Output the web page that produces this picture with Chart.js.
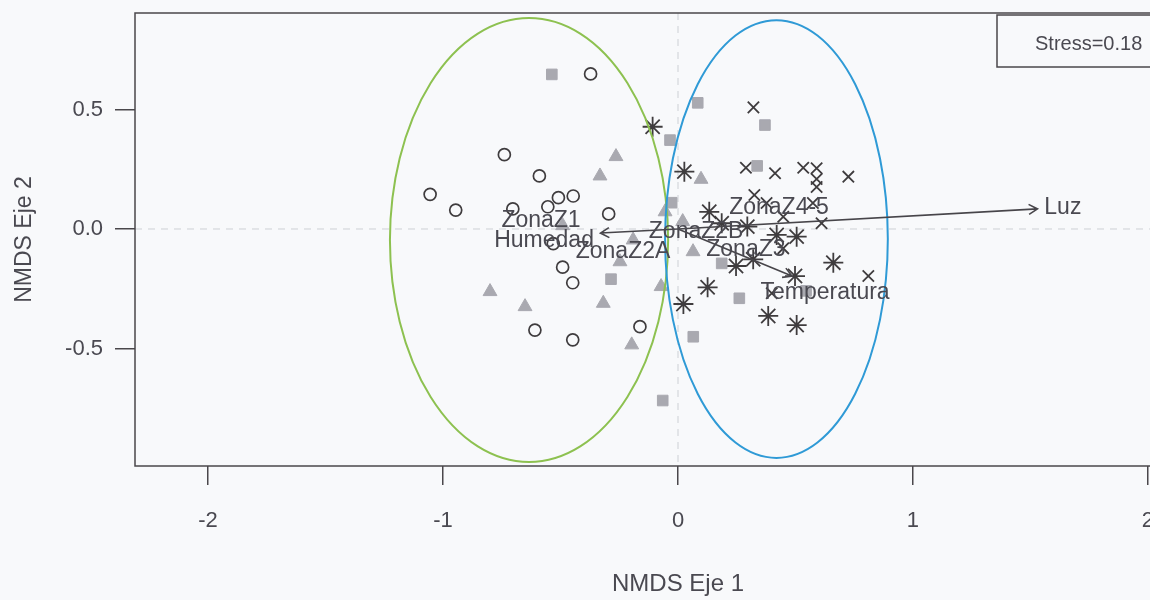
<!DOCTYPE html>
<html>
<head>
<meta charset="utf-8">
<script src="https://cdn.jsdelivr.net/npm/chart.js@4.4.0/dist/chart.umd.min.js"></script>
<style>
  html, body { margin: 0; padding: 0; background: #f8f9fb; overflow: hidden; }
  #wrap { width: 1240px; height: 600px; }
</style>
</head>
<body>
<div id="wrap"><canvas id="nmds" width="1240" height="600"></canvas></div>
<script>
// ===================================
// DATA (NMDS scores)
// ===================================
const zonaZ1 = [
  [-0.372, 0.649], [-0.739, 0.311], [-0.590, 0.222], [-1.055, 0.145],
  [-0.946, 0.079], [-0.703, 0.084], [-0.554, 0.093], [-0.509, 0.131],
  [-0.446, 0.138], [-0.295, 0.063], [-0.531, -0.061], [-0.491, -0.160],
  [-0.448, -0.225], [-0.609, -0.423], [-0.448, -0.464], [-0.162, -0.409]
];
const zonaZ2A = [
  [-0.264, 0.303], [-0.332, 0.222], [-0.055, 0.072], [-0.491, 0.014],
  [-0.191, -0.046], [-0.247, -0.137], [-0.072, -0.241], [-0.800, -0.262],
  [-0.651, -0.325], [-0.318, -0.311], [-0.197, -0.485], [0.098, 0.208],
  [0.020, 0.031], [0.064, -0.095]
];
const zonaZ2B = [
  [-0.537, 0.647], [-0.034, 0.372], [-0.027, 0.110], [0.084, 0.528],
  [0.370, 0.435], [0.337, 0.264], [-0.285, -0.210], [-0.065, -0.718],
  [0.186, -0.144], [0.261, -0.290], [0.065, -0.451], [0.545, -0.259]
];
const zonaZ3 = [
  [-0.108, 0.428], [0.027, 0.240], [0.133, 0.072], [0.186, 0.024],
  [0.295, 0.010], [0.420, -0.025], [0.505, -0.032], [0.247, -0.155],
  [0.320, -0.127], [0.498, -0.197], [0.661, -0.141], [0.126, -0.244],
  [0.023, -0.314], [0.384, -0.364], [0.505, -0.402]
];
const zonaZ45 = [
  [0.321, 0.509], [0.289, 0.256], [0.413, 0.233], [0.533, 0.256],
  [0.590, 0.254], [0.590, 0.209], [0.590, 0.176], [0.725, 0.219],
  [0.325, 0.142], [0.377, 0.109], [0.574, 0.109], [0.611, 0.024],
  [0.448, -0.081], [0.810, -0.197], [0.399, -0.269], [0.448, 0.051]
];

// centroides de los factores
const centroidNames = ["ZonaZ1", "ZonaZ2A", "ZonaZ2B", "ZonaZ3", "ZonaZ4-5"];
const centroidPos = [[-0.583, 0.033], [-0.234, -0.096], [0.077, -0.013], [0.289, -0.088], [0.430, 0.088]];

// vectores ambientales (envfit)
const vectorNames = ["Luz", "Humedad", "Temperatura"];
const vectorEnds = [[1.530, 0.084], [-0.330, -0.017], [0.485, -0.197]];
const vectorLabelPos = [[1.638, 0.088], [-0.570, -0.050], [0.626, -0.268]];

// elipses de los grupos
const ellipseCenters = [[-0.634, -0.046], [0.419, -0.042]];
const ellipseRadii = [[0.592, 0.929], [0.474, 0.916]];

const xTickValues = [-2, -1, 0, 1, 2];
const yTickValues = [-0.5, 0.0, 0.5];
const stressLabel = "Stress=0.18";

// ===================================
// STYLE
// ===================================
const FONT = "'Liberation Sans', Arial, sans-serif";
const DARK = "#3f3c3e";
const GREY = "#a9a9b0";
const TEXT = "#4a4951";
const ellipseColors = ["#8dc150", "#2f9ad6"];

function toPoints(arr) {
  return arr.map(p => ({ x: p[0], y: p[1] }));
}

// ===================================
// OVERLAY: ejes en cero, elipses, flechas, textos, marco
// ===================================
const nmdsOverlay = {
  id: "nmdsOverlay",
  beforeDatasetsDraw(chart) {
    const { ctx, chartArea: a, scales: { x, y } } = chart;
    const x0 = x.getPixelForValue(0);
    const y0 = y.getPixelForValue(0);
    ctx.save();
    ctx.strokeStyle = "#cdd0d5";
    ctx.lineWidth = 1;
    ctx.setLineDash([7, 6]);
    ctx.beginPath();
    ctx.moveTo(x0, a.top); ctx.lineTo(x0, a.bottom);
    ctx.moveTo(a.left, y0); ctx.lineTo(a.right, y0);
    ctx.stroke();
    ctx.restore();
  },
  afterDatasetsDraw(chart) {
    const { ctx, chartArea: a, scales: { x, y } } = chart;
    ctx.save();

    // elipses
    ellipseCenters.forEach((c, i) => {
      const cx = x.getPixelForValue(c[0]);
      const cy = y.getPixelForValue(c[1]);
      const rx = Math.abs(x.getPixelForValue(c[0] + ellipseRadii[i][0]) - cx);
      const ry = Math.abs(y.getPixelForValue(c[1] + ellipseRadii[i][1]) - cy);
      ctx.beginPath();
      ctx.ellipse(cx, cy, rx, ry, 0, 0, Math.PI * 2);
      ctx.strokeStyle = ellipseColors[i];
      ctx.lineWidth = 2;
      ctx.stroke();
    });

    // flechas
    const ox = x.getPixelForValue(0);
    const oy = y.getPixelForValue(0);
    ctx.strokeStyle = "#47454a";
    ctx.lineWidth = 1.6;
    vectorEnds.forEach(v => {
      const ex = x.getPixelForValue(v[0]);
      const ey = y.getPixelForValue(v[1]);
      const ang = Math.atan2(ey - oy, ex - ox);
      const head = 10;
      ctx.beginPath();
      ctx.moveTo(ox, oy);
      ctx.lineTo(ex, ey);
      ctx.moveTo(ex - head * Math.cos(ang - Math.PI / 6), ey - head * Math.sin(ang - Math.PI / 6));
      ctx.lineTo(ex, ey);
      ctx.lineTo(ex - head * Math.cos(ang + Math.PI / 6), ey - head * Math.sin(ang + Math.PI / 6));
      ctx.stroke();
    });

    // textos
    ctx.fillStyle = TEXT;
    ctx.font = "23px " + FONT;
    ctx.textAlign = "center";
    ctx.textBaseline = "middle";
    centroidNames.forEach((name, i) => {
      ctx.fillText(name, x.getPixelForValue(centroidPos[i][0]), y.getPixelForValue(centroidPos[i][1]));
    });
    vectorNames.forEach((name, i) => {
      ctx.fillText(name, x.getPixelForValue(vectorLabelPos[i][0]), y.getPixelForValue(vectorLabelPos[i][1]));
    });

    // marco
    ctx.strokeStyle = "#4a474b";
    ctx.lineWidth = 1.5;
    ctx.strokeRect(a.left, a.top, a.width, a.height);

    // leyenda Stress
    const boxW = 224, boxH = 52;
    const bx = a.right - boxW;
    const by = a.top + 2;
    ctx.fillStyle = "#f8f9fb";
    ctx.fillRect(bx, by, boxW, boxH);
    ctx.strokeRect(bx, by, boxW, boxH);
    ctx.fillStyle = TEXT;
    ctx.font = "20px " + FONT;
    ctx.textAlign = "left";
    ctx.fillText(stressLabel, bx + 38, by + 29);

    ctx.restore();
  }
};

// ===================================
// CHART
// ===================================
const ctx = document.getElementById("nmds").getContext("2d");

new Chart(ctx, {
  type: "scatter",
  data: {
    datasets: [
      { label: "ZonaZ1", data: toPoints(zonaZ1), pointStyle: "circle", pointRadius: 6,
        borderColor: DARK, backgroundColor: "rgba(0,0,0,0)", borderWidth: 1.7 },
      { label: "ZonaZ2A", data: toPoints(zonaZ2A), pointStyle: "triangle", pointRadius: 8,
        borderColor: GREY, backgroundColor: GREY, borderWidth: 1 },
      { label: "ZonaZ2B", data: toPoints(zonaZ2B), pointStyle: "rect", pointRadius: 7.5,
        borderColor: GREY, backgroundColor: GREY, borderWidth: 1 },
      { label: "ZonaZ3", data: toPoints(zonaZ3), pointStyle: "star", pointRadius: 10,
        borderColor: DARK, backgroundColor: DARK, borderWidth: 1.8 },
      { label: "ZonaZ4-5", data: toPoints(zonaZ45), pointStyle: "crossRot", pointRadius: 8,
        borderColor: DARK, backgroundColor: DARK, borderWidth: 1.8 }
    ]
  },
  options: {
    responsive: false,
    devicePixelRatio: 1,
    animation: false,
    events: [],
    layout: { padding: { top: 13, right: 19, left: 0, bottom: 0 } },
    plugins: { legend: { display: false }, tooltip: { enabled: false } },
    scales: {
      x: {
        type: "linear",
        min: -2.311,
        max: 2.311,
        afterBuildTicks: scale => { scale.ticks = xTickValues.map(v => ({ value: v })); },
        afterFit: scale => { scale.height = 134; scale.paddingLeft = 0; scale.paddingRight = 0; },
        border: { display: false },
        grid: { drawOnChartArea: false, drawTicks: true, tickLength: 19, color: "#4a474b", lineWidth: 1.5 },
        ticks: { color: TEXT, font: { family: FONT, size: 22 }, padding: 23, callback: v => String(v) },
        title: { display: true, text: "NMDS Eje 1", color: TEXT, font: { family: FONT, size: 24 },
                 padding: { top: 0, bottom: 1 } }
      },
      y: {
        type: "linear",
        min: -0.992,
        max: 0.904,
        afterBuildTicks: scale => { scale.ticks = yTickValues.map(v => ({ value: v })); },
        afterFit: scale => { scale.width = 135; scale.paddingTop = 0; scale.paddingBottom = 0; },
        border: { display: false },
        grid: { drawOnChartArea: false, drawTicks: true, tickLength: 20, color: "#4a474b", lineWidth: 1.5 },
        ticks: { color: TEXT, font: { family: FONT, size: 22 }, padding: 12, callback: v => v.toFixed(1) },
        title: { display: true, text: "NMDS Eje 2", color: TEXT, font: { family: FONT, size: 23 },
                 padding: { top: 11, bottom: 0 } }
      }
    }
  },
  plugins: [nmdsOverlay]
});
</script>
</body>
</html>
